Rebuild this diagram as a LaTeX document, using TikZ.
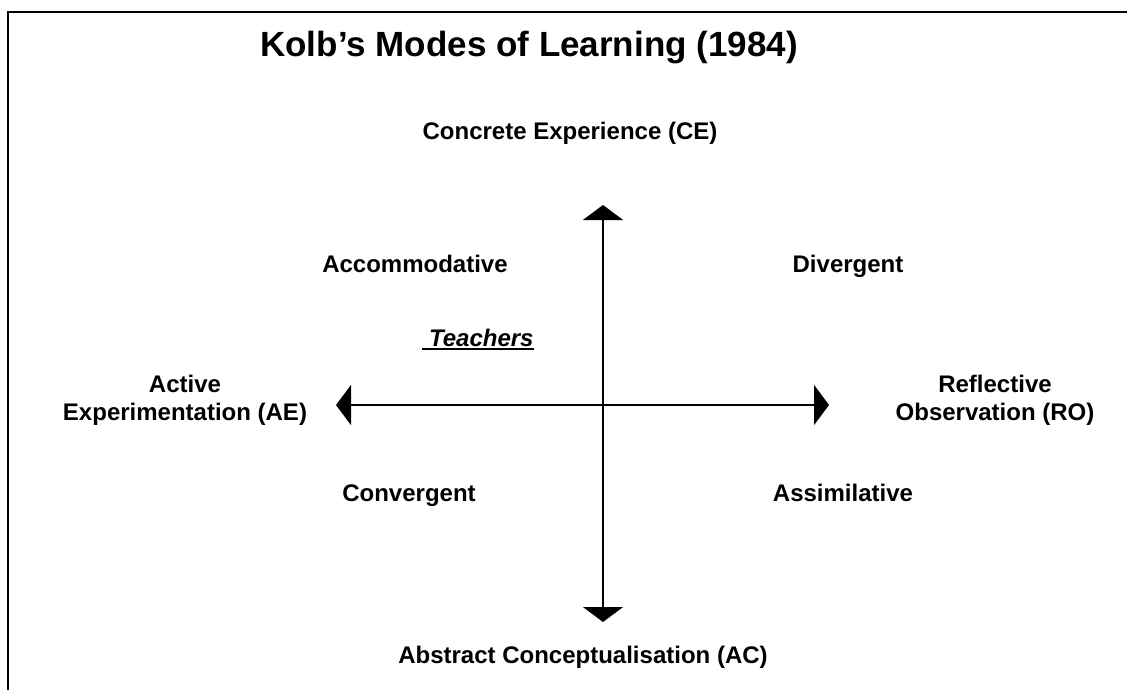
\documentclass[tikz,border=0pt]{standalone}
\usepackage{fontspec}
\setmainfont{Liberation Sans}
\newcommand{\thickul}[1]{\setbox0=\hbox{#1}\rlap{\rule[-4pt]{\wd0}{2pt}}\box0}
\usetikzlibrary{arrows.meta}
\tikzset{
  lbl/.style={inner sep=0pt, font=\fontsize{24}{28}\selectfont\bfseries, align=center},
  ttl/.style={inner sep=0pt, font=\fontsize{35}{40}\selectfont\bfseries},
  axis/.style={line width=1.5pt, {Triangle[length=15pt,width=40pt]}-{Triangle[length=15pt,width=40pt]}},
  frame/.style={line width=2.2pt}
}
\begin{document}
\begin{tikzpicture}[x=1pt,y=-1pt]
\useasboundingbox (0,0) rectangle (1127,690);
\draw[frame] (8,691) -- (8,12) -- (1128,12);
\node[ttl, anchor=base] (title) at (529,57) {Kolb’s Modes of Learning (1984)};
\node[lbl, anchor=base] (ce) at (570,140) {Concrete Experience (CE)};
\node[lbl, anchor=base] (acc) at (415,272) {Accommodative};
\node[lbl, anchor=base] (div) at (848,272) {Divergent};
\node[lbl, anchor=base] (teach) at (478,346) {\itshape\thickul{\ Teachers}};
\node[lbl, anchor=north] (ae) at (185,375) {Active\\Experimentation (AE)};
\node[lbl, anchor=north] (ro) at (995,375) {Reflective\\Observation (RO)};
\node[lbl, anchor=base] (conv) at (409,501) {Convergent};
\node[lbl, anchor=base] (assim) at (843,501) {Assimilative};
\node[lbl, anchor=base] (ac) at (583,663) {Abstract Conceptualisation (AC)};
\coordinate (top) at (603,205);
\coordinate (bot) at (603,622);
\coordinate (lft) at (336,405);
\coordinate (rgt) at (829,405);
\draw[axis] (bot) -- (top);
\draw[axis] (lft) -- (rgt);
\end{tikzpicture}
\end{document}
